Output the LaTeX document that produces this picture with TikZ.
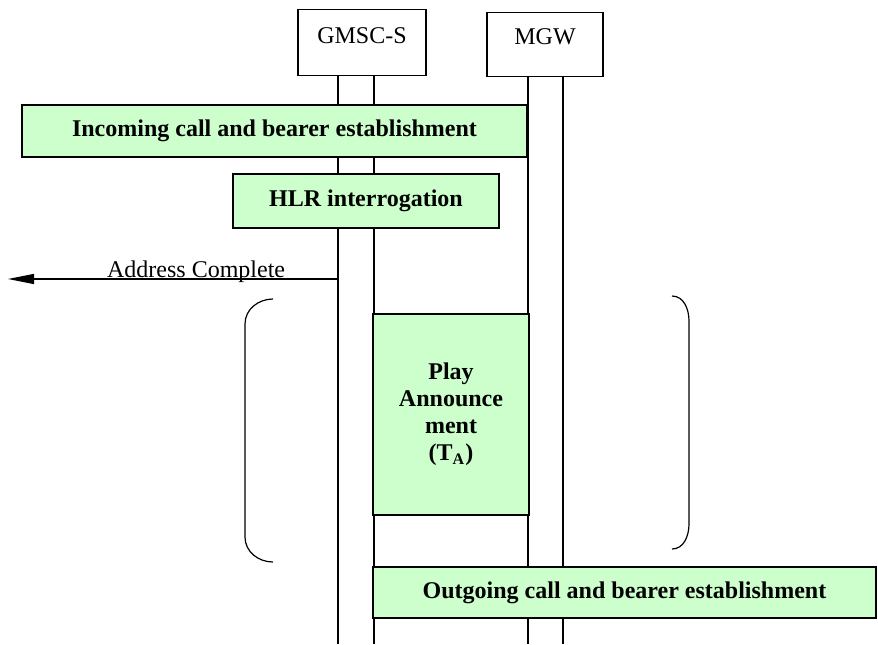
\documentclass[tikz,border=0pt]{standalone}
\usepackage{fontspec}
\setmainfont{Liberation Serif}
\usepackage{tikz}
\usetikzlibrary{arrows.meta}
\definecolor{boxgreen}{RGB}{204, 255, 204}

\tikzset{
  entity/.style   = {draw, line width=0.6pt, fill=white, anchor=north,
                     inner xsep=0pt, inner ysep=5pt, text depth=11pt,
                     font=\fontsize{12}{14}\selectfont},
  procbox/.style  = {draw, line width=0.6pt, fill=boxgreen, inner sep=0pt,
                     align=center, font=\fontsize{12}{13.5}\selectfont\bfseries},
  lifeline/.style = {line width=0.6pt},
  bracket/.style  = {line width=0.6pt}
}

\begin{document}
\begin{tikzpicture}[x=0.5pt, y=-0.5pt]
  \useasboundingbox (0,0) rectangle (878,644);

  \node[entity, minimum width=64pt, text height=12pt] (gmsc) at (362,9)  {GMSC-S};
  \node[entity, minimum width=58pt, text height=11pt] (mgw)  at (545,12) {MGW};

  \coordinate (gL) at (338,644);
  \coordinate (gR) at (374,644);
  \coordinate (mL) at (528,644);
  \coordinate (mR) at (563,644);
  \draw[lifeline] (gmsc.south -| gL) -- (gL);
  \draw[lifeline] (gmsc.south -| gR) -- (gR);
  \draw[lifeline] (mgw.south -| mL) -- (mL);
  \draw[lifeline] (mgw.south -| mR) -- (mR);

  \node[procbox, minimum width=252.5pt, minimum height=26pt] (incoming) at (274.5,131)
    {Incoming call and bearer establishment};
  \node[procbox, minimum width=133pt, minimum height=27pt] (hlr) at (366,201)
    {HLR interrogation};

  \coordinate (acEnd) at (8,279);
  \draw[lifeline, -{Triangle[length=13pt, width=5pt]}] (gL |- acEnd) --
    node[anchor=base, pos=0.43, yshift=1pt, inner sep=0pt, font=\fontsize{12}{14}\selectfont] (aclabel) {Address Complete} (acEnd);

  \node[procbox, minimum width=78pt, minimum height=100.5pt] (play) at (451,414.5)
    {Play\\Announce\\ ment\\(T\textsubscript{A})};

  \draw[bracket] (273,299) to[out=180, in=90] (245,324) -- (245,537) to[out=-90, in=180] (273,562);
  \draw[bracket] (672,296) to[out=0, in=90] (689,321) -- (689,524) to[out=-90, in=0] (672,549);

  \node[procbox, minimum width=251.5pt, minimum height=25.5pt] (outgoing) at (624.5,592.5)
    {Outgoing call and bearer establishment};
\end{tikzpicture}
\end{document}
